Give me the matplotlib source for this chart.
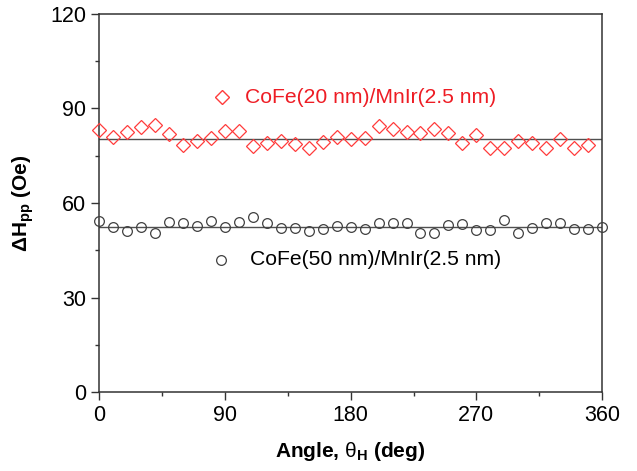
import matplotlib
matplotlib.use("Agg")
from matplotlib import pyplot as plt
from matplotlib.ticker import MultipleLocator
import numpy

plt.rcParams['font.family'] = ['Liberation Sans', 'DejaVu Sans']
plt.rcParams['mathtext.fontset'] = 'custom'
plt.rcParams['mathtext.rm'] = 'Liberation Sans'
plt.rcParams['mathtext.bf'] = 'Liberation Sans:bold'
plt.rcParams['mathtext.it'] = 'Liberation Sans:italic'

# CoFe(20 nm)/MnIr(2.5 nm), 0..350 deg
angle_20 = numpy.arange(0, 351, 10)
dh_20 = [83.2, 80.8, 82.6, 84.0, 84.8, 81.9, 78.4, 79.7, 80.7, 83.0,
         82.9, 78.1, 79.1, 79.8, 78.6, 77.4, 79.5, 80.8, 80.2, 80.5,
         84.4, 83.4, 82.6, 82.3, 83.4, 82.1, 79.0, 81.6, 77.6, 77.4,
         79.8, 79.0, 77.4, 80.2, 77.4, 78.4]
fit_20 = 80.4

# CoFe(50 nm)/MnIr(2.5 nm), 0..360 deg
angle_50 = numpy.arange(0, 361, 10)
dh_50 = [54.4, 52.5, 51.1, 52.5, 50.4, 53.9, 53.5, 52.7, 54.3, 52.3,
         53.9, 55.7, 53.5, 52.0, 52.2, 51.2, 51.7, 52.7, 52.5, 51.6,
         53.8, 53.8, 53.8, 50.6, 50.6, 53.0, 53.3, 51.4, 51.4, 54.6,
         50.6, 52.0, 53.8, 53.5, 51.6, 51.6, 52.5]
fit_50 = 52.5

red = '#ff3b3b'
gray = '#505050'

fig = plt.figure(figsize=(6.37, 4.71), dpi=100)
ax = fig.add_axes([0.1559, 0.1677, 0.7892, 0.8026])

ax.axhline(fit_20, color=gray, lw=1.0, zorder=1)
ax.axhline(fit_50, color=gray, lw=1.0, zorder=1)
ax.plot(angle_20, dh_20, ls='none', marker='D', ms=6.8, mfc='none',
        mec=red, mew=0.9, clip_on=False, zorder=3)
ax.plot(angle_50, dh_50, ls='none', marker='o', ms=7, mfc='none',
        mec='#404040', mew=0.9, clip_on=False, zorder=3)

# in-plot labels
ax.plot([88], [93.5], ls='none', marker='D', ms=6.8, mfc='none', mec=red, mew=1.0)
ax.text(104, 93.5, 'CoFe(20 nm)/MnIr(2.5 nm)', color='#ee1c24', fontsize=15.2, va='center')
ax.plot([87], [42], ls='none', marker='o', ms=7, mfc='none', mec='#404040', mew=0.9)
ax.text(108, 42, 'CoFe(50 nm)/MnIr(2.5 nm)', color='black', fontsize=15.2, va='center')

ax.set_xlim(0, 360)
ax.set_ylim(0, 120)
ax.xaxis.set_major_locator(MultipleLocator(90))
ax.xaxis.set_minor_locator(MultipleLocator(45))
ax.yaxis.set_major_locator(MultipleLocator(30))
ax.yaxis.set_minor_locator(MultipleLocator(15))
ax.tick_params(which='both', direction='out', top=False, right=False,
               labelsize=15.5, width=1.0, color='#333333')
ax.tick_params(which='major', length=6)
ax.tick_params(which='minor', length=3)
for s in ax.spines.values():
    s.set_linewidth(1.1)
    s.set_color('#333333')

ax.set_xlabel(r'Angle, $\mathrm{\theta}_{\mathbf{H}}$ (deg)', fontsize=15, fontweight='bold', labelpad=10)
ax.set_ylabel(r'$\mathbf{\Delta H_{pp}}$ (Oe)', fontsize=15, fontweight='bold', labelpad=10)

fig.savefig('out.png', dpi=100)
